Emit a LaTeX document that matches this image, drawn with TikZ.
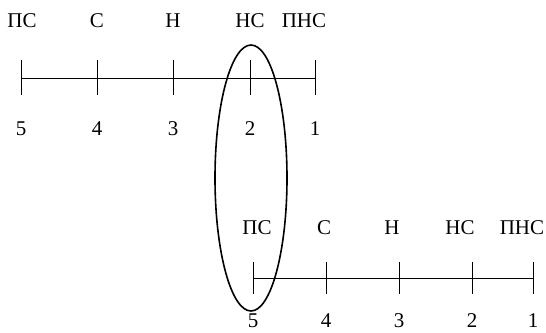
\documentclass[tikz,border=0pt]{standalone}
\usepackage{fontspec}
\setmainfont{Liberation Serif}
\usetikzlibrary{positioning}
\tikzset{
  scaletick/.style={draw, line width=0.5pt},
  scalelabel/.style={inner sep=0pt, font=\fontsize{10.5}{12}\selectfont},
  scalenum/.style={inner sep=0pt, font=\fontsize{10.5}{12}\selectfont}
}

\begin{document}
\begin{tikzpicture}[x=0.5pt,y=-0.5pt]
  \useasboundingbox (0,0) rectangle (546,332);
  % upper scale
  \foreach \name/\xx/\num in {a5/21/5, a4/97/4, a3/173/3, a2/250/2, a1/315/1} {
    \coordinate (\name) at (\xx,78);
    \draw[scaletick] (\xx,60) -- (\xx,95);
    \node[scalenum] (\name n) at (\xx,129) {\num};
  }
  \node[scalelabel] (a5l) at (22,21) {ПС};
  \node[scalelabel] (a4l) at (97,21) {С};
  \node[scalelabel] (a3l) at (173,21) {Н};
  \node[scalelabel] (a2l) at (250,21) {НС};
  \node[scalelabel] (a1l) at (304,21) {ПНС};
  \draw[scaletick] (a5) -- (a1);
  % lower scale
  \foreach \name/\xx/\num in {b5/253/5, b4/326/4, b3/399/3, b2/472/2, b1/533/1} {
    \coordinate (\name) at (\xx,278);
    \draw[scaletick] (\xx,262) -- (\xx,294);
    \node[scalenum] (\name n) at (\xx,321) {\num};
  }
  \node[scalelabel] (b5l) at (257,228) {ПС};
  \node[scalelabel] (b4l) at (324,228) {С};
  \node[scalelabel] (b3l) at (392,228) {Н};
  \node[scalelabel] (b2l) at (460,228) {НС};
  \node[scalelabel] (b1l) at (522,228) {ПНС};
  \draw[scaletick] (b5) -- (b1);
  % grouping
  \draw[line width=0.8pt] (251,178) ellipse (36 and 133);
\end{tikzpicture}
\end{document}
